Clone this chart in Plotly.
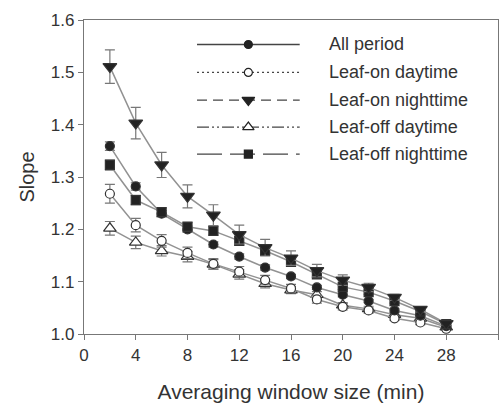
import plotly.graph_objects as go

window = [2, 4, 6, 8, 10, 12, 14, 16, 18, 20, 22, 24, 26, 28]

series_names = ["All period", "Leaf-on daytime", "Leaf-on nighttime",
                "Leaf-off daytime", "Leaf-off nighttime"]

all_period = [1.359, 1.282, 1.230, 1.200, 1.171, 1.148, 1.127, 1.110, 1.089, 1.075, 1.063, 1.045, 1.035, 1.015]
all_period_err = [0.008, 0.007, 0.006, 0.006, 0.005, 0.005, 0.005, 0.004, 0.004, 0.004, 0.003, 0.003, 0.003, 0.002]

leafon_day = [1.268, 1.208, 1.178, 1.155, 1.134, 1.119, 1.103, 1.087, 1.066, 1.052, 1.045, 1.030, 1.022, 1.010]
leafon_day_err = [0.018, 0.013, 0.012, 0.011, 0.010, 0.010, 0.009, 0.008, 0.007, 0.006, 0.005, 0.004, 0.004, 0.003]

leafon_night = [1.511, 1.403, 1.323, 1.263, 1.227, 1.190, 1.165, 1.145, 1.121, 1.103, 1.089, 1.070, 1.047, 1.020]
leafon_night_err = [0.032, 0.030, 0.024, 0.022, 0.020, 0.018, 0.016, 0.014, 0.012, 0.010, 0.008, 0.006, 0.005, 0.003]

leafoff_day = [1.202, 1.175, 1.159, 1.148, 1.133, 1.114, 1.096, 1.084, 1.075, 1.055, 1.048, 1.037, 1.030, 1.013]
leafoff_day_err = [0.013, 0.012, 0.010, 0.010, 0.009, 0.009, 0.008, 0.007, 0.006, 0.005, 0.005, 0.004, 0.003, 0.003]

leafoff_night = [1.323, 1.256, 1.233, 1.205, 1.197, 1.178, 1.159, 1.138, 1.114, 1.090, 1.080, 1.063, 1.043, 1.019]
leafoff_night_err = [0.010, 0.009, 0.008, 0.008, 0.008, 0.008, 0.007, 0.006, 0.006, 0.005, 0.004, 0.004, 0.003, 0.003]

x_ticks = [0, 4, 8, 12, 16, 20, 24, 28, 32]
y_ticks = [1.0, 1.1, 1.2, 1.3, 1.4, 1.5, 1.6]

FONT = "Liberation Sans, Arial, sans-serif"
TXT = "#333333"
LINE_GRAY = "#929292"
DARK = "#222222"

styles = [
    dict(symbol="circle", fill=DARK, size=9, dash="solid"),
    dict(symbol="circle-open", fill="white", size=9, dash="2px,3px"),
    dict(symbol="triangle-down", fill=DARK, size=12, dash="10px,6px"),
    dict(symbol="triangle-up-open", fill="white", size=11, dash="12px,3px,2px,3px,2px,3px"),
    dict(symbol="square", fill=DARK, size=9, dash="25px,8px"),
]
data = [
    (all_period, all_period_err),
    (leafon_day, leafon_day_err),
    (leafon_night, leafon_night_err),
    (leafoff_day, leafoff_day_err),
    (leafoff_night, leafoff_night_err),
]

fig = go.Figure()

for idx in [3, 1, 0, 4, 2]:
    vals, errs = data[idx]
    st = styles[idx]
    sym = st["symbol"].replace("-open", "")
    fig.add_trace(go.Scatter(
        x=window, y=vals, mode="lines+markers", name=series_names[idx],
        showlegend=False,
        line=dict(color=LINE_GRAY, width=1.5),
        marker=dict(symbol=sym, size=st["size"], color=st["fill"],
                    line=dict(color="#333333", width=1.2)),
        error_y=dict(type="data", array=errs, visible=True,
                     color="#777777", thickness=1.2, width=5),
    ))

# Custom legend drawn on an overlay axis (0..1 plot fraction)
legend_rows = [0.922, 0.833, 0.745, 0.659, 0.573]
line_x0, line_x1, mark_x, text_x = 0.273, 0.521, 0.397, 0.586
for i, name in enumerate(series_names):
    st = styles[i]
    sym = st["symbol"].replace("-open", "")
    yy = legend_rows[i]
    fig.add_trace(go.Scatter(
        x=[line_x0, line_x1], y=[yy, yy], mode="lines", xaxis="x2", yaxis="y2",
        showlegend=False, hoverinfo="skip",
        line=dict(color="#444444", width=1.3, dash=st["dash"]),
    ))
    fig.add_trace(go.Scatter(
        x=[mark_x], y=[yy], mode="markers", xaxis="x2", yaxis="y2",
        showlegend=False, hoverinfo="skip",
        marker=dict(symbol=sym, size=st["size"] - 1, color=st["fill"],
                    line=dict(color="#222222", width=1.2)),
    ))
    fig.add_annotation(x=text_x, y=yy, xref="x2", yref="y2", text=name,
                       showarrow=False, xanchor="left", yanchor="middle",
                       font=dict(family=FONT, size=18, color=TXT))

axis_common = dict(showgrid=False, zeroline=False, showline=True,
                   linecolor="#777777", linewidth=1.2, mirror=True,
                   ticks="outside", ticklen=5, tickcolor="#777777", tickwidth=1.2,
                   tickfont=dict(family=FONT, size=17, color=TXT))

fig.update_layout(
    width=503, height=405,
    margin=dict(l=84, r=5, t=20, b=71),
    paper_bgcolor="white", plot_bgcolor="white",
    showlegend=False,
    xaxis=dict(range=[0, 32], tickvals=x_ticks, ticktext=[str(v) for v in x_ticks],
               title=dict(text="Averaging window size (min)", standoff=20,
                          font=dict(family=FONT, size=21, color=TXT)),
               **axis_common),
    yaxis=dict(range=[1.0, 1.6], tickvals=y_ticks, ticktext=[f"{v:.1f}" for v in y_ticks],
               title=dict(text="Slope", standoff=10,
                          font=dict(family=FONT, size=20, color=TXT)),
               **axis_common),
    xaxis2=dict(range=[0, 1], overlaying="x", visible=False, fixedrange=True),
    yaxis2=dict(range=[0, 1], overlaying="y", visible=False, fixedrange=True),
)

fig.write_html("out.html")
